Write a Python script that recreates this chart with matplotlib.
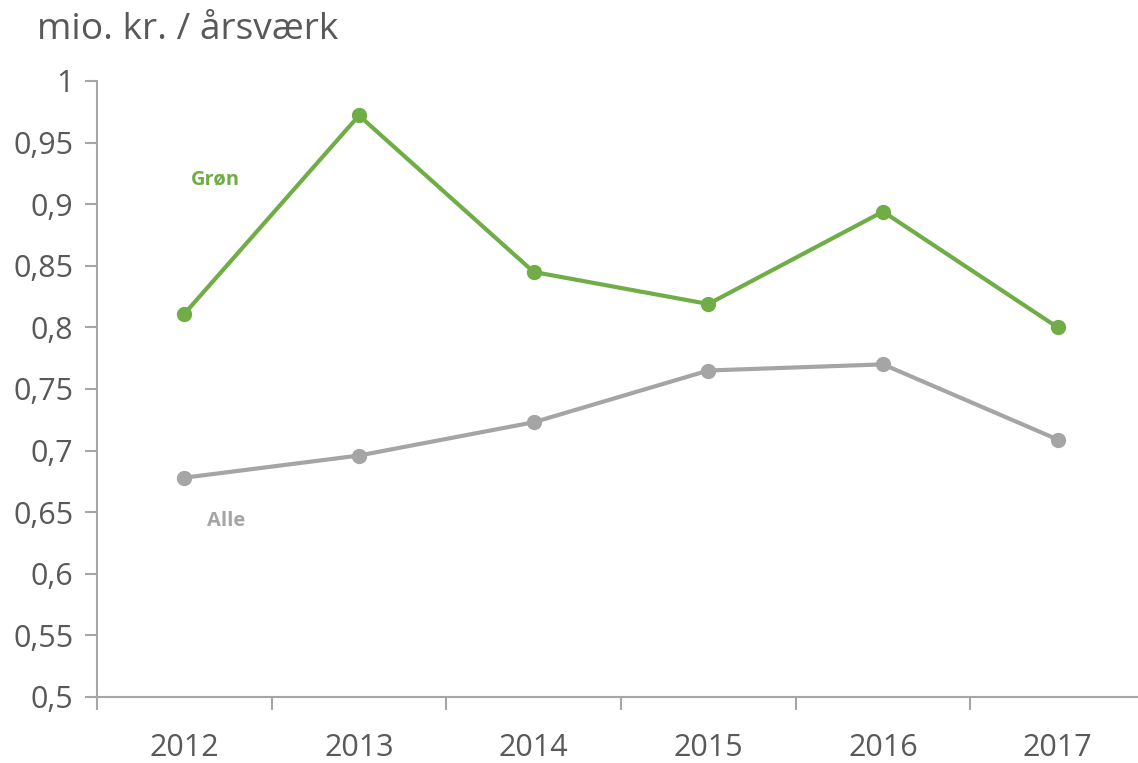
import matplotlib
matplotlib.use("Agg")
import matplotlib.pyplot as plt
from matplotlib.ticker import FixedLocator, FuncFormatter

years = ["2012", "2013", "2014", "2015", "2016", "2017"]
groen = [0.811, 0.972, 0.845, 0.819, 0.894, 0.800]
alle = [0.678, 0.696, 0.723, 0.765, 0.770, 0.709]
yticks = [0.5, 0.55, 0.6, 0.65, 0.7, 0.75, 0.8, 0.85, 0.9, 0.95, 1.0]

GREEN = "#70AD47"
GRAY = "#A5A5A5"
TEXT = "#595959"
AXIS = "#A6A6A6"

plt.rcParams['font.family'] = ['Open Sans', 'DejaVu Sans']

fig = plt.figure(figsize=(11.38, 7.63), dpi=100)
W, H = 1138, 763
left, right, top, bottom = 97, 1145, 81, 697
ax = fig.add_axes([left / W, 1 - bottom / H, (right - left) / W, (bottom - top) / H])

x = list(range(len(years)))
ax.plot(x, groen, color=GREEN, lw=3, marker="o", ms=10, clip_on=False)
ax.plot(x, alle, color=GRAY, lw=3, marker="o", ms=10, clip_on=False)

ax.set_xlim(-0.5, len(years) - 0.5)
ax.set_ylim(0.5, 1.0)
ax.yaxis.set_major_locator(FixedLocator(yticks))
ax.yaxis.set_major_formatter(FuncFormatter(lambda v, p: ("%g" % round(v, 2)).replace(".", ",")))
ax.xaxis.set_major_locator(FixedLocator([i - 0.5 for i in range(len(years))]))
ax.xaxis.set_minor_locator(FixedLocator(x))
ax.set_xticklabels([""] * len(years))
ax.set_xticklabels(years, minor=True)
ax.tick_params(axis="x", which="major", length=9, width=1.5, color=AXIS, direction="out")
ax.tick_params(axis="x", which="minor", length=0, pad=26, labelsize=22, labelcolor=TEXT)
ax.tick_params(axis="y", length=9, width=1.5, color=AXIS, labelsize=22, labelcolor=TEXT, pad=8)

for s in ["top", "right"]:
    ax.spines[s].set_visible(False)
for s in ["left", "bottom"]:
    ax.spines[s].set_color(AXIS)
    ax.spines[s].set_linewidth(1.5)

ax.text(0.18, 0.92, "Grøn", color=GREEN, fontsize=14.5, fontweight="bold", ha="center", va="center")
ax.text(0.24, 0.643, "Alle", color=GRAY, fontsize=14.5, fontweight="bold", ha="center", va="center")

fig.text(37 / W, 1 - 30 / H, "mio. kr. / årsværk", color=TEXT, fontsize=26.7, ha="left", va="center")

fig.savefig("out.png", dpi=100)
